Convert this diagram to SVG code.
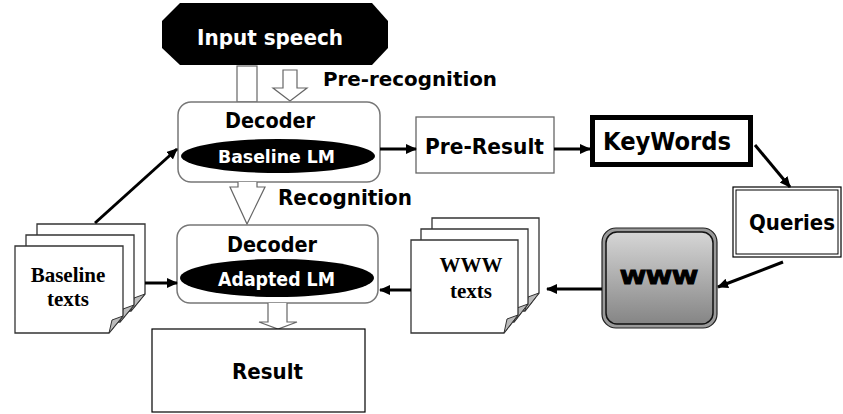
<svg xmlns="http://www.w3.org/2000/svg" width="843" height="414" viewBox="0 0 843 414">
<style>
.t{font-family:"DejaVu Sans Condensed","DejaVu Sans",Verdana,sans-serif;font-weight:bold;fill:#000}
.w{fill:#fff}
.s{font-family:"Liberation Serif","Times New Roman",serif;font-weight:bold;text-anchor:middle;fill:#000;font-size:21px}
.hollow{fill:#fff;stroke:#666;stroke-width:1.2}
.dec{fill:#fff;stroke:#777;stroke-width:1.5}
.page{fill:#fff;stroke:#333;stroke-width:1.3}
.fold{fill:#bbb;stroke:#333;stroke-width:1}
.con line{stroke:#000;stroke-width:3;marker-end:url(#ah)}
</style>
<defs>
<marker id="ah" markerUnits="userSpaceOnUse" markerWidth="12" markerHeight="11" refX="10" refY="5" orient="auto">
<path d="M0,0 L11,5 L0,10 Z" fill="#000"/>
</marker>
<linearGradient id="wg" x1="0" y1="0" x2="0" y2="1">
<stop offset="0" stop-color="#d6d6d6"/>
<stop offset="1" stop-color="#858585"/>
</linearGradient>
<g id="pageA">
<path class="page" d="M0,0 H108 V70 L94,87 H0 Z"/>
<path class="fold" d="M108,70 L94,87 L97,74 Z"/>
</g>
<g id="pageB">
<path class="page" d="M0,0 H107 V75 L93,93 H0 Z"/>
<path class="fold" d="M107,75 L93,93 L96,79 Z"/>
</g>
</defs>

<g id="input-speech">
<polygon points="180,3 372,3 388,21 388,48 372,65 180,65 162,48 162,21" fill="#000"/>
<text class="t w" x="197" y="45" font-size="20.5" textLength="146" lengthAdjust="spacingAndGlyphs">Input speech</text>
</g>

<g id="pre-recognition-arrows">
<rect class="hollow" x="237" y="66" width="20" height="36"/>
<path class="hollow" d="M283,70 H297 V88 H307 L290,101 L273,88 H283 Z"/>
<text class="t" x="323" y="86" font-size="19" textLength="174" lengthAdjust="spacingAndGlyphs">Pre-recognition</text>
</g>

<g id="decoder1">
<rect class="dec" x="178" y="102" width="202" height="80" rx="13"/>
<text class="t" x="225" y="128" font-size="20.5" textLength="90" lengthAdjust="spacingAndGlyphs">Decoder</text>
<ellipse cx="278" cy="156" rx="97" ry="17" fill="#000"/>
<text class="t w" x="218" y="163" font-size="18" textLength="117" lengthAdjust="spacingAndGlyphs">Baseline LM</text>
</g>

<g id="recognition-arrow">
<path class="hollow" d="M238,182 V187 H230 L247,224 L265,187 H257 V182"/>
<text class="t" x="278" y="205" font-size="20.5" textLength="134" lengthAdjust="spacingAndGlyphs">Recognition</text>
</g>

<g id="decoder2">
<rect class="dec" x="177" y="225" width="201" height="78" rx="13"/>
<text class="t" x="227" y="252" font-size="20.5" textLength="90" lengthAdjust="spacingAndGlyphs">Decoder</text>
<ellipse cx="277" cy="278" rx="97" ry="19" fill="#000"/>
<text class="t w" x="218" y="286" font-size="19" textLength="117" lengthAdjust="spacingAndGlyphs">Adapted LM</text>
</g>

<g id="result-arrow">
<path class="hollow" d="M268,303 V322 H259 L278,329 L297,322 H287 V303"/>
</g>

<g id="result">
<rect x="152" y="329" width="213" height="83" fill="#fff" stroke="#000" stroke-width="1.2"/>
<text class="t" x="232" y="379" font-size="22" textLength="71" lengthAdjust="spacingAndGlyphs">Result</text>
</g>

<g id="baseline-texts">
<use href="#pageA" x="37" y="224"/>
<use href="#pageA" x="26" y="235"/>
<use href="#pageA" x="15" y="246"/>
<text class="s" x="68" y="282">Baseline</text>
<text class="s" x="68" y="306">texts</text>
</g>

<g id="pre-result">
<rect x="416" y="117" width="138" height="56" fill="#fff" stroke="#666" stroke-width="1.3"/>
<text class="t" x="425" y="154" font-size="22" textLength="119" lengthAdjust="spacingAndGlyphs">Pre-Result</text>
</g>

<g id="keywords">
<rect x="592.5" y="117.5" width="158" height="47" fill="#fff" stroke="#000" stroke-width="5"/>
<text class="t" x="603" y="150" font-size="24" textLength="128" lengthAdjust="spacingAndGlyphs">KeyWords</text>
</g>

<g id="queries">
<rect x="733" y="187" width="108" height="70" fill="#fff" stroke="#000" stroke-width="1.2"/>
<rect x="736" y="190" width="102" height="64" fill="none" stroke="#000" stroke-width="1"/>
<text class="t" x="749" y="230" font-size="20.5" textLength="86" lengthAdjust="spacingAndGlyphs">Queries</text>
</g>

<g id="www">
<rect x="602" y="228" width="115" height="100" rx="14" fill="#9a9a9a" stroke="#222" stroke-width="1.2"/>
<rect x="606" y="232" width="107" height="92" rx="11" fill="url(#wg)" stroke="#111" stroke-width="1.5"/>
<text class="t" x="620" y="284" font-size="20" textLength="78" lengthAdjust="spacingAndGlyphs" stroke="#000" stroke-width="1">WWW</text>
</g>

<g id="www-texts">
<use href="#pageB" x="432" y="218"/>
<use href="#pageB" x="421" y="229"/>
<use href="#pageB" x="411" y="240"/>
<text class="s" x="471" y="272">WWW</text>
<text class="s" x="471" y="298">texts</text>
</g>

<g id="connectors" class="con">
<line x1="380" y1="149" x2="416" y2="149"/>
<line x1="554" y1="149" x2="590" y2="149"/>
<line x1="755" y1="145" x2="790" y2="187"/>
<line x1="783" y1="262" x2="718" y2="287"/>
<line x1="602" y1="289" x2="547" y2="289"/>
<line x1="411" y1="290" x2="380" y2="290"/>
<line x1="95" y1="223" x2="177" y2="149"/>
<line x1="145" y1="283" x2="177" y2="283"/>
</g>
</svg>
